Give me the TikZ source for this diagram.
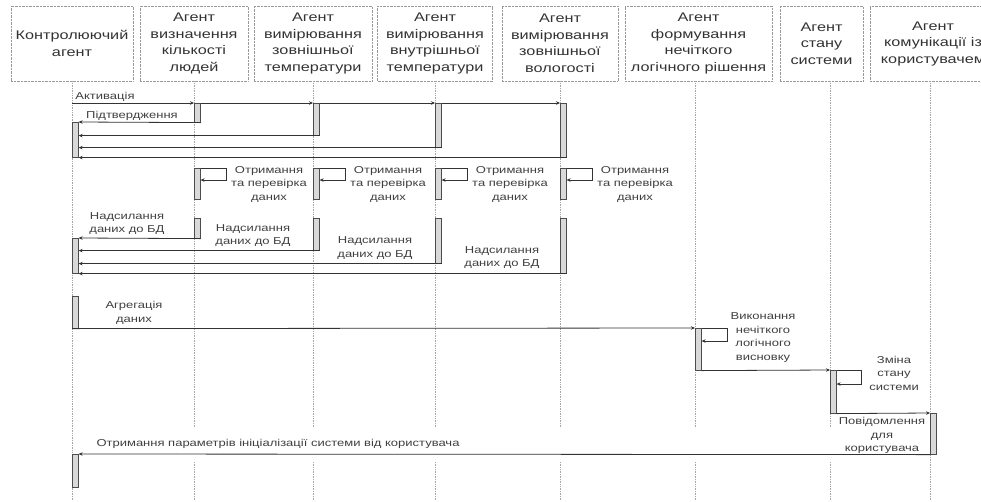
\documentclass[tikz,border=0pt]{standalone}
\usepackage{fontspec}
\setmainfont{Liberation Sans}[FakeStretch=1.3]
\usetikzlibrary{arrows.meta,calc}

\begin{document}
\begin{tikzpicture}[x=1pt,y=-1pt,
    agent/.style={draw=gray!80,densely dotted,align=center,inner sep=1pt,minimum height=75pt,text=black!80,font=\fontsize{12.5}{16.5}\selectfont},
    life/.style={draw=gray!70,densely dotted,line width=0.7pt},
    bar/.style={draw=black!70,fill=gray!30,line width=0.6pt,minimum width=6pt,inner sep=0pt,anchor=north west},
    msg/.style={draw=black!80,line width=0.8pt,-{Stealth[length=4pt,width=3.5pt]}},
    lbl/.style={align=center,inner sep=0pt,text=black!75,font=\fontsize{10}{13.5}\selectfont}]
  \useasboundingbox (0,0) rectangle (981,501);
  \clip (0,0) rectangle (981,501);
  \fill[white] (0,0) rectangle (981,501);

  % agents
  \node[agent,minimum width=122pt] (ctrl) at (72,43.5) {Контролюючий\\агент};
  \node[agent,minimum width=108pt] (people) at (194,43.5) {Агент\\визначення\\кількості\\людей};
  \node[agent,minimum width=118pt] (outT) at (313,43.5) {Агент\\вимірювання\\зовнішньої\\температури};
  \node[agent,minimum width=115pt] (inT) at (435,43.5) {Агент\\вимірювання\\внутрішньої\\температури};
  \node[agent,minimum width=116pt] (hum) at (560,43.5) {Агент\\вимірювання\\зовнішньої\\вологості};
  \node[agent,minimum width=147pt] (fuzzy) at (698.5,43.5) {Агент\\формування\\нечіткого\\логічного рішення};
  \node[agent,minimum width=83pt] (state) at (821.5,43.5) {Агент\\стану\\системи};
  \node[agent,minimum width=126pt] (user) at (933,43.5) {Агент\\комунікації із\\користувачем};

  % lifelines
  \coordinate (lC) at (ctrl.south);
  \coordinate (lP) at (people.south);
  \coordinate (lO) at (outT.south);
  \coordinate (lI) at (inT.south);
  \coordinate (lH) at (hum.south);
  \coordinate (lF) at ([xshift=-3.5pt]fuzzy.south);
  \coordinate (lS) at ([xshift=8.5pt]state.south);
  \coordinate (lU) at ([xshift=-3pt]user.south);
  \draw[life] (lC) -- (lC |- 0,501);
  \draw[life] (lU) -- (lU |- 0,501);
  \foreach \l in {lP,lO,lI,lH,lF,lS} {
    \draw[life] (\l) -- (\l |- 0,428);
    \draw[life] (\l |- 0,462) -- (\l |- 0,501);
  }

  % activation
  \node[bar,minimum height=35pt] (bC1) at (72,122) {};
  \node[bar,minimum height=19pt] (bP1) at (194,103) {};
  \node[bar,minimum height=32pt] (bO1) at (313,103) {};
  \node[bar,minimum height=44pt] (bI1) at (435,103) {};
  \node[bar,minimum height=54pt] (bH1) at (560,103) {};
  \coordinate (actStart) at (72,103);
  \draw[msg] (actStart) -- (bP1.north west);
  \draw[msg] (bP1.north east) -- (bO1.north west);
  \draw[msg] (bO1.north east) -- (bI1.north west);
  \draw[msg] (bI1.north east) -- (bH1.north west);
  \node[lbl] (lblAct) at (105,97) {Активація};
  \draw[msg] (bP1.south east) -- (bC1.north east);
  \draw[msg] (bO1.south east) -- (bC1.east |- bO1.south east);
  \draw[msg] (bI1.south east) -- (bC1.east |- bI1.south east);
  \draw[msg] (bH1.south east) -- (bC1.south east);
  \node[lbl] (lblAck) at (132,116) {Підтвердження};

  % checking
  \node[bar,minimum height=31pt] (bP2) at (194,168) {};
  \node[bar,minimum height=31pt] (bO2) at (313,168) {};
  \node[bar,minimum height=31pt] (bI2) at (435,168) {};
  \node[bar,minimum height=31pt] (bH2) at (560,168) {};
  \foreach \b in {bP2,bO2,bI2,bH2} {
    \draw[msg] (\b.north east) -- ++(26,0) |- ($(\b.north east)+(0,12)$);
    \node[lbl] at ($(\b.north west)+(75,16)$) {Отримання\\та перевірка\\даних};
  }

  % sending to DB
  \node[bar,minimum height=20pt] (bP3) at (194,218) {};
  \node[bar,minimum height=32pt] (bO3) at (313,218) {};
  \node[bar,minimum height=45pt] (bI3) at (435,218) {};
  \node[bar,minimum height=55pt] (bH3) at (560,218) {};
  \node[bar,minimum height=35pt] (bC2) at (72,238) {};
  \draw[msg] (bP3.south east) -- (bC2.north east);
  \draw[msg] (bO3.south east) -- (bC2.east |- bO3.south east);
  \draw[msg] (bI3.south east) -- (bC2.east |- bI3.south east);
  \draw[msg] (bH3.south east) -- (bC2.south east);
  \node[lbl] (dbP) at (127,223.5) {Надсилання\\даних до БД};
  \node[lbl] (dbO) at (253,235.5) {Надсилання\\даних до БД};
  \node[lbl] (dbI) at (375,248) {Надсилання\\даних до БД};
  \node[lbl] (dbH) at (502,257.5) {Надсилання\\даних до БД};

  % aggregation and decision
  \node[bar,minimum height=32pt] (bC3) at (72,296) {};
  \node[bar,minimum height=42pt] (bF) at (695,328) {};
  \node[bar,minimum height=43pt] (bS) at (830,370) {};
  \node[bar,minimum height=41pt] (bU) at (930,413) {};
  \node[bar,minimum height=33pt] (bC4) at (72,454) {};
  \draw[msg] (bC3.south west) -- (bF.north west);
  \node[lbl] (lblAgg) at (134,313) {Агрегація\\даних};
  \draw[msg] (bF.north east) -- ++(26,0) |- ($(bF.north east)+(0,13)$);
  \node[lbl] (lblFz) at (763,337.5) {Виконання\\нечіткого\\логічного\\висновку};
  \draw[msg] (bF.south east) -- (bS.north west);
  \draw[msg] (bS.north east) -- ++(25,0) |- ($(bS.north east)+(0,14)$);
  \node[lbl] (lblSt) at (894,373) {Зміна\\стану\\системи};
  \draw[msg] (bS.south east) -- (bU.north west);
  \node[lbl] (lblMsg) at (882,435.5) {Повідомлення\\для\\користувача};
  \draw[msg] (bU.south west) -- (bC4.north east);
  \node[lbl] (lblInit) at (278,444) {Отримання параметрів ініціалізації системи від користувача};
\end{tikzpicture}
\end{document}
